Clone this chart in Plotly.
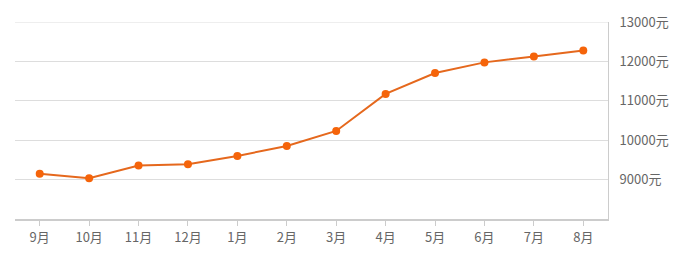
import plotly.graph_objects as go

months = ["9月", "10月", "11月", "12月", "1月", "2月", "3月", "4月", "5月", "6月", "7月", "8月"]
prices = [9150, 9035, 9360, 9390, 9600, 9855, 10235, 11175, 11705, 11975, 12125, 12275]
y_ticks = [9000, 10000, 11000, 12000, 13000]
y_labels = [f"{v}元" for v in y_ticks]

fig = go.Figure()
fig.add_trace(go.Scatter(
    x=months, y=prices, mode="lines+markers",
    line=dict(color="#E5681D", width=2),
    marker=dict(color="#F5640A", size=8),
    hoverinfo="x+y",
))

# top gridline (13000) sits on the plot edge
fig.add_shape(type="line", xref="paper", x0=0, x1=1, yref="y", y0=y_ticks[-1], y1=y_ticks[-1],
              line=dict(color="#dddddd", width=1), layer="below")

fig.update_layout(
    width=688, height=258,
    margin=dict(l=15, r=80, t=17, b=39),
    paper_bgcolor="white", plot_bgcolor="white",
    showlegend=False,
    font=dict(family="Noto Sans CJK SC, DejaVu Sans, sans-serif", size=13, color="#666666"),
    xaxis=dict(
        type="category", range=[-0.5, 11.5],
        showgrid=False, showline=True, linecolor="#cccccc", linewidth=2,
        ticks="outside", ticklen=5, tickcolor="#cccccc", tickwidth=1,
        tickfont=dict(size=13, color="#666666"),
        zeroline=False, fixedrange=True,
    ),
    yaxis=dict(
        side="right", range=[8000, 13000],
        tickmode="array", tickvals=y_ticks, ticktext=y_labels,
        showgrid=True, gridcolor="#dddddd", gridwidth=1,
        showline=True, linecolor="#cccccc", linewidth=1, mirror=False,
        ticks="", ticklabelstandoff=8,
        tickfont=dict(size=13, color="#666666"),
        zeroline=False, fixedrange=True,
    ),
)

fig.write_html("out.html")
